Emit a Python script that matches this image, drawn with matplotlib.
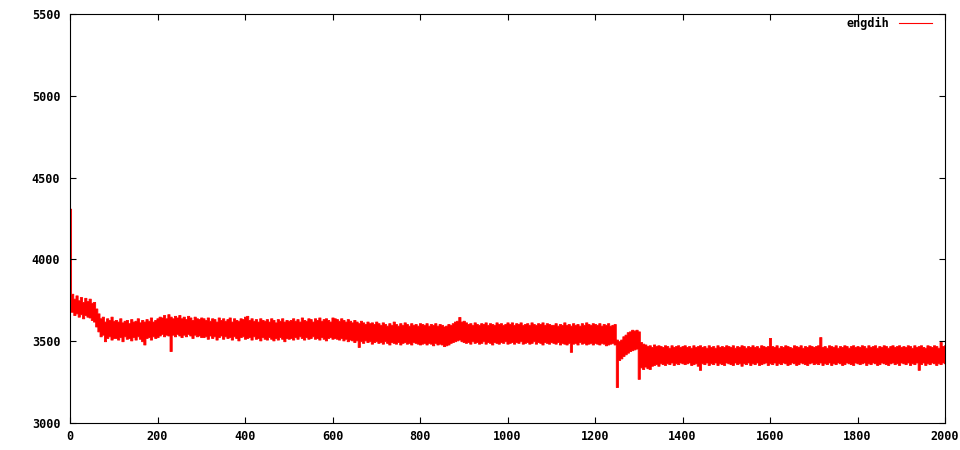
import numpy as np
import matplotlib
matplotlib.use('Agg')
import matplotlib.pyplot as plt

# engdih drawn as a dense band: max and min of the trace in each 5-unit bin,
# bins centred at 0, 5, 10, ... 2000
t = np.arange(0, 2001, 5)

eng_hi = [4310,
    3790, 3760, 3780, 3750, 3770, 3740, 3765, 3745, 3760, 3735, 3740, 3700, 3670, 3640, 3650, 3620, 3640, 3630, 3650, 3625,
    3630, 3620, 3640, 3615, 3625, 3630, 3610, 3635, 3620, 3625, 3640, 3615, 3630, 3620, 3635, 3625, 3645, 3620, 3630, 3640,
    3650, 3645, 3660, 3640, 3665, 3650, 3640, 3655, 3645, 3660, 3640, 3650, 3635, 3655, 3645, 3630, 3650, 3640, 3635, 3645,
    3640, 3630, 3645, 3625, 3640, 3635, 3620, 3645, 3630, 3640, 3625, 3635, 3645, 3620, 3640, 3630, 3625, 3640, 3635, 3650,
    3655, 3630, 3640, 3625, 3635, 3620, 3640, 3630, 3625, 3635, 3620, 3640, 3630, 3615, 3635, 3625, 3640, 3620, 3630, 3625,
    3630, 3640, 3625, 3635, 3620, 3645, 3630, 3625, 3640, 3635, 3620, 3640, 3630, 3645, 3625, 3635, 3640, 3630, 3620, 3645,
    3640, 3635, 3625, 3640, 3630, 3620, 3635, 3625, 3615, 3630, 3620, 3610, 3625, 3615, 3605, 3620, 3610, 3615, 3605, 3620,
    3610, 3600, 3615, 3605, 3595, 3610, 3600, 3620, 3605, 3595, 3610, 3600, 3615, 3605, 3595, 3610, 3600, 3605, 3595, 3610,
    3605, 3600, 3610, 3595, 3605, 3600, 3610, 3595, 3605, 3600, 3590, 3595, 3605, 3600, 3610, 3620, 3625, 3648, 3620, 3625,
    3615, 3605, 3610, 3600, 3615, 3605, 3600, 3610, 3605, 3615, 3600, 3610, 3605, 3600, 3615, 3605, 3610, 3600, 3605, 3615,
    3605, 3615, 3600, 3610, 3605, 3615, 3600, 3605, 3610, 3600, 3615, 3605, 3600, 3610, 3605, 3615, 3600, 3610, 3605, 3600,
    3600, 3610, 3595, 3605, 3600, 3615, 3600, 3605, 3595, 3610, 3600, 3605, 3595, 3610, 3600, 3615, 3605, 3600, 3610, 3605,
    3600, 3610, 3595, 3605, 3600, 3610, 3595, 3600, 3605, 3510, 3500, 3510, 3530, 3540, 3555, 3560, 3570, 3565, 3570, 3560,
    3495, 3485, 3480, 3470, 3475, 3465, 3480, 3470, 3475, 3470, 3465, 3475, 3470, 3460, 3475, 3465, 3470, 3475, 3465, 3470,
    3475, 3465, 3470, 3460, 3475, 3465, 3470, 3475, 3465, 3470, 3460, 3475, 3465, 3470, 3460, 3475, 3465, 3470, 3465, 3475,
    3470, 3465, 3475, 3460, 3470, 3465, 3475, 3470, 3460, 3470, 3465, 3475, 3465, 3470, 3460, 3475, 3470, 3465, 3470, 3520,
    3470, 3465, 3475, 3460, 3470, 3465, 3475, 3470, 3465, 3460, 3475, 3470, 3465, 3475, 3460, 3470, 3465, 3475, 3470, 3465,
    3470, 3475, 3525, 3465, 3470, 3460, 3475, 3470, 3465, 3475, 3460, 3470, 3465, 3475, 3470, 3460, 3470, 3475, 3465, 3470,
    3465, 3475, 3470, 3460, 3475, 3465, 3470, 3475, 3460, 3470, 3465, 3475, 3470, 3460, 3470, 3475, 3465, 3470, 3475, 3465,
    3470, 3465, 3475, 3470, 3460, 3475, 3465, 3470, 3475, 3465, 3460, 3475, 3470, 3465, 3475, 3470, 3460, 3495, 3470, 3475,
]

eng_lo = [3680,
    3680, 3660, 3670, 3650, 3665, 3640, 3660, 3650, 3645, 3630, 3620, 3590, 3560, 3530, 3540, 3500, 3520, 3530, 3510, 3520,
    3520, 3510, 3525, 3500, 3530, 3515, 3520, 3505, 3525, 3510, 3530, 3515, 3500, 3480, 3520, 3525, 3510, 3530, 3520, 3525,
    3535, 3545, 3530, 3540, 3535, 3440, 3540, 3530, 3545, 3535, 3525, 3540, 3530, 3545, 3535, 3520, 3540, 3530, 3535, 3525,
    3525, 3530, 3515, 3535, 3520, 3530, 3510, 3525, 3535, 3515, 3530, 3520, 3525, 3510, 3530, 3520, 3505, 3525, 3530, 3515,
    3520, 3525, 3510, 3530, 3515, 3520, 3505, 3525, 3515, 3510, 3525, 3515, 3505, 3520, 3510, 3525, 3515, 3500, 3520, 3515,
    3520, 3510, 3525, 3515, 3530, 3520, 3510, 3525, 3515, 3520, 3530, 3515, 3520, 3510, 3525, 3515, 3505, 3520, 3525, 3515,
    3520, 3515, 3510, 3520, 3505, 3515, 3500, 3510, 3505, 3495, 3505, 3465, 3500, 3490, 3505, 3495, 3500, 3485, 3495, 3500,
    3490, 3495, 3485, 3500, 3490, 3480, 3495, 3490, 3485, 3495, 3480, 3490, 3495, 3485, 3490, 3480, 3495, 3490, 3485, 3480,
    3485, 3490, 3480, 3490, 3485, 3475, 3490, 3480, 3485, 3480, 3470, 3475, 3480, 3490, 3495, 3500, 3505, 3510, 3500, 3495,
    3490, 3495, 3485, 3500, 3490, 3495, 3485, 3490, 3500, 3485, 3495, 3490, 3480, 3495, 3490, 3485, 3495, 3490, 3500, 3485,
    3490, 3495, 3485, 3495, 3490, 3500, 3485, 3490, 3495, 3485, 3490, 3500, 3485, 3495, 3490, 3480, 3495, 3490, 3485, 3495,
    3490, 3485, 3495, 3480, 3490, 3485, 3480, 3490, 3435, 3485, 3490, 3480, 3495, 3485, 3490, 3480, 3485, 3490, 3480, 3490,
    3485, 3480, 3490, 3485, 3475, 3480, 3485, 3490, 3480, 3220, 3385, 3395, 3410, 3420, 3430, 3440, 3445, 3450, 3455, 3270,
    3340, 3330, 3345, 3335, 3330, 3350, 3355, 3360, 3350, 3365, 3360, 3355, 3365, 3360, 3370, 3355, 3365, 3360, 3370, 3365,
    3360, 3365, 3370, 3355, 3360, 3365, 3350, 3325, 3365, 3360, 3370, 3355, 3365, 3360, 3370, 3355, 3365, 3360, 3355, 3370,
    3365, 3360, 3355, 3370, 3360, 3365, 3350, 3365, 3360, 3370, 3355, 3365, 3360, 3370, 3355, 3360, 3365, 3370, 3355, 3365,
    3360, 3370, 3355, 3365, 3360, 3370, 3365, 3355, 3360, 3370, 3365, 3355, 3360, 3370, 3365, 3360, 3355, 3365, 3370, 3360,
    3365, 3360, 3370, 3355, 3365, 3360, 3370, 3355, 3365, 3360, 3370, 3365, 3355, 3360, 3370, 3365, 3360, 3355, 3370, 3365,
    3360, 3365, 3370, 3355, 3365, 3360, 3370, 3365, 3355, 3360, 3370, 3365, 3360, 3355, 3365, 3370, 3360, 3365, 3355, 3370,
    3365, 3360, 3370, 3355, 3365, 3360, 3370, 3325, 3360, 3370, 3355, 3365, 3360, 3370, 3365, 3355, 3365, 3360, 3370, 3365,
]

xticks = [0, 200, 400, 600, 800, 1000, 1200, 1400, 1600, 1800, 2000]
yticks = [3000, 3500, 4000, 4500, 5000, 5500]

font = {'family': 'DejaVu Sans Mono', 'weight': 'bold', 'size': 8.5}

fig = plt.figure(figsize=(9.6, 4.5), dpi=100)
ax = fig.add_axes([70 / 960, 27 / 450, 875 / 960, 409 / 450])

ax.fill_between(t, eng_lo, eng_hi, step='mid', color='#ff0000', lw=0.6,
                edgecolor='#ff0000')
ax.plot([], [], color='#ff0000', label='engdih')  # legend handle only

ax.set_xlim(0, 2000)
ax.set_ylim(3000, 5500)
ax.set_xticks(xticks)
ax.set_yticks(yticks)
ax.set_xticklabels([str(v) for v in xticks], fontdict=font)
ax.set_yticklabels([str(v) for v in yticks], fontdict=font)
ax.tick_params(direction='in', length=4, width=0.8, top=True, right=True,
               colors='black')
ax.tick_params(axis='x', pad=5)
ax.tick_params(axis='y', pad=7)
for s in ax.spines.values():
    s.set_linewidth(0.8)

leg = ax.legend(loc='upper right', bbox_to_anchor=(0.985, 0.992), frameon=False,
                markerfirst=False, handlelength=2.8, handletextpad=0.8,
                borderpad=0, borderaxespad=0, prop=font)
for h in leg.get_lines():
    h.set_linewidth(0.8)

fig.savefig('out.png', dpi=100)
